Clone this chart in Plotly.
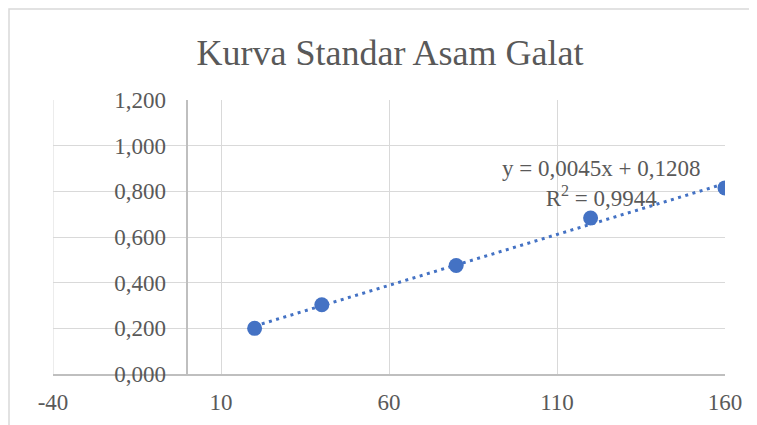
import numpy as np
import plotly.graph_objects as go

# Data
konsentrasi = [20, 40, 80, 120, 160]
absorbansi = [0.200, 0.303, 0.475, 0.683, 0.815]

x_tickvals = [-40, 10, 60, 110, 160]
x_ticktext = ["-40", "10", "60", "110", "160"]
y_tickvals = [0.0, 0.2, 0.4, 0.6, 0.8, 1.0, 1.2]
y_ticktext = ["0,000", "0,200", "0,400", "0,600", "0,800", "1,000", "1,200"]

title_text = "Kurva Standar Asam Galat"
eq_text = "y = 0,0045x + 0,1208<br>R<sup>2</sup> = 0,9944"

# Linear trendline fitted from the data
slope, intercept = np.polyfit(konsentrasi, absorbansi, 1)
tx = np.array([min(konsentrasi), max(konsentrasi)])
ty = slope * tx + intercept

BLUE = "rgb(68,114,196)"
TEXT = "#595959"
FONT = "Liberation Serif"

W, H = 749, 417  # page body has an 8px margin

fig = go.Figure()
fig.add_trace(go.Scatter(
    x=tx, y=ty, mode="lines",
    line=dict(color=BLUE, width=3, dash="3px,4.5px"),
    hoverinfo="skip", showlegend=False,
))
fig.add_trace(go.Scatter(
    x=konsentrasi, y=absorbansi, mode="markers",
    marker=dict(color=BLUE, size=15),
    showlegend=False,
))

fig.update_layout(
    width=W, height=H,
    margin=dict(l=45, r=32, t=92, b=51, autoexpand=False),
    paper_bgcolor="white", plot_bgcolor="white",
    font=dict(family=FONT, color=TEXT, size=23),
    title=dict(text=title_text, x=(390 - 8) / W, xref="container", xanchor="center",
               y=1 - (52 - 8) / H, yref="container", yanchor="middle",
               font=dict(family=FONT, size=36, color=TEXT)),
    xaxis=dict(range=[-40, 160], tickvals=x_tickvals, ticktext=x_ticktext,
               showgrid=True, gridcolor="#d9d9d9", gridwidth=1,
               zeroline=False, showline=True, linecolor="#bfbfbf", linewidth=1.5,
               ticks="", ticklabelstandoff=7, automargin=False, fixedrange=True),
    yaxis=dict(range=[0, 1.2], tickvals=y_tickvals, ticktext=y_ticktext,
               showgrid=True, gridcolor="#d9d9d9", gridwidth=1,
               zeroline=False, showline=True, linecolor="#bfbfbf", linewidth=1.5,
               anchor="free", position=0.2, ticks="", ticklabelstandoff=16,
               automargin=False, fixedrange=True),
    shapes=[
        dict(type="line", xref="x", yref="paper", x0=-40, x1=-40, y0=0, y1=1,
             line=dict(color="#d9d9d9", width=1), layer="below"),
        dict(type="rect", xref="paper", yref="paper",
             x0=(9 - 53) / 672, x1=1.3, y0=-0.5, y1=(374 - 9) / 274,
             line=dict(color="#d9d9d9", width=1.5), fillcolor="rgba(0,0,0,0)",
             layer="below"),
    ],
    annotations=[dict(text=eq_text, x=123, y=0.835, xref="x", yref="y",
                      showarrow=False, xanchor="center", yanchor="middle",
                      align="center", font=dict(family=FONT, size=23, color=TEXT))],
)

fig.write_html("out.html")
